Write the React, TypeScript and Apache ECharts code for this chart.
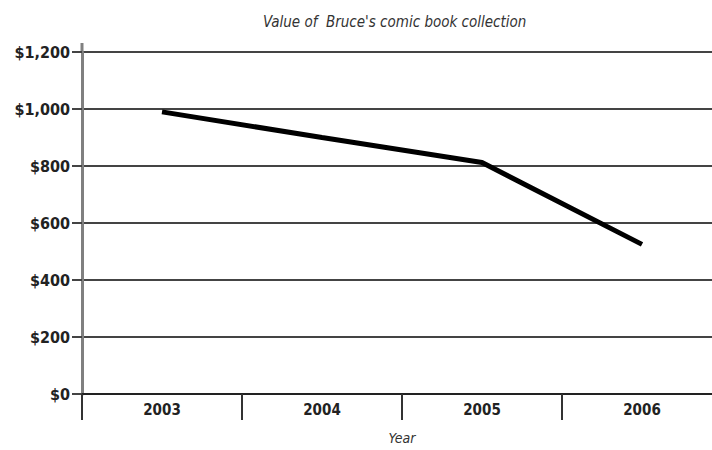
import React, { useEffect, useRef } from "react";
import * as echarts from "echarts";

const years = ["2003", "2004", "2005", "2006"];
const values = [990, 900, 812, 525];
const yTicks = [0, 200, 400, 600, 800, 1000, 1200];

const FONT = "'Liberation Sans Narrow', 'DejaVu Sans Condensed', 'Roboto Condensed', sans-serif";

export default function App() {
  const ref = useRef<HTMLDivElement>(null);
  useEffect(() => {
    if (!ref.current) return;
    const chart = echarts.init(ref.current, undefined, { renderer: "svg" });
    chart.setOption({
      animation: false,
      backgroundColor: "#ffffff",
      title: {
        text: "Value of  Bruce's comic book collection",
        left: 258,
        top: 9,
        textStyle: { fontFamily: FONT, fontStyle: "italic", fontWeight: "normal", fontSize: 15, color: "#333" },
      },
      graphic: [
        {
          type: "line",
          shape: { x1: 82, y1: 43, x2: 82, y2: 53 },
          style: { stroke: "#808080", lineWidth: 3 },
          silent: true,
        },
      ],
      grid: { left: 82, top: 52, width: 640, height: 342, containLabel: false, outerBoundsMode: "none" },
      xAxis: {
        type: "category",
        data: years,
        boundaryGap: true,
        name: "Year",
        nameLocation: "middle",
        nameGap: 44,
        nameTextStyle: { fontFamily: FONT, fontStyle: "italic", fontSize: 14, color: "#333", verticalAlign: "middle" },
        axisLine: { show: true, lineStyle: { color: "#222", width: 2 } },
        axisTick: { show: true, alignWithLabel: false, interval: 0, length: 26, lineStyle: { color: "#333", width: 2 } },
        axisLabel: { fontFamily: FONT, fontWeight: "bold", fontSize: 15, color: "#222", margin: 8 },
        splitLine: { show: false },
      },
      yAxis: {
        type: "value",
        min: yTicks[0],
        max: yTicks[yTicks.length - 1],
        interval: 200,
        axisLine: { show: true, lineStyle: { color: "#808080", width: 3 } },
        axisTick: { show: true, length: 10, lineStyle: { color: "#444", width: 2 } },
        axisLabel: {
          fontFamily: FONT,
          fontWeight: "bold",
          fontSize: 16,
          color: "#222",
          margin: 12,
          formatter: (v: number) => "$" + v.toLocaleString("en-US"),
        },
        splitLine: { show: true, lineStyle: { color: "#444", width: 2 } },
      },
      series: [
        {
          type: "line",
          data: values,
          symbol: "none",
          lineStyle: { color: "#000", width: 5 },
          z: 5,
        },
      ],
    });
    return () => chart.dispose();
  }, []);
  return <div ref={ref} style={{ position: "fixed", left: 0, top: 0, width: 712, height: 450 }} />;
}
